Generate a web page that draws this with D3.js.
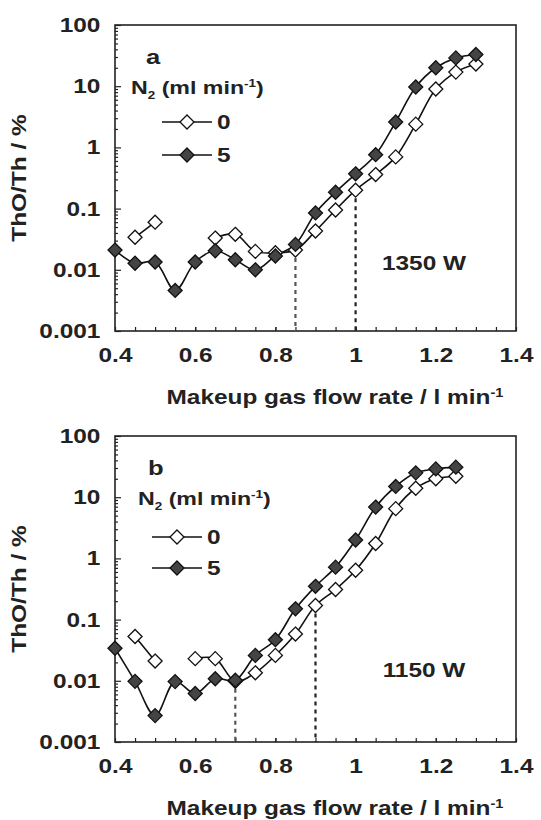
<!DOCTYPE html>
<html>
<head>
<meta charset="utf-8">
<script src="https://cdn.jsdelivr.net/npm/d3@7"></script>
<style>
  body { margin: 0; background: #fff; }
  text { font-family: "Liberation Sans", Arial, sans-serif; font-weight: bold; fill: #222; }
</style>
</head>
<body>
<div id="chart"></div>
<script>
// flow rate (l/min) and ThO/Th (%)
const xA = [0.4, 0.45, 0.5, 0.55, 0.6, 0.65, 0.7, 0.75, 0.8, 0.85, 0.9, 0.95, 1.0, 1.05, 1.1, 1.15, 1.2, 1.25, 1.3];
const openA = [null, 0.034, 0.060, null, null, 0.033, 0.038, 0.020, 0.019, 0.021, 0.043, 0.095, 0.20, 0.36, 0.70, 2.4, 9.0, 17, 23];
const fillA = [0.021, 0.0128, 0.0134, 0.0046, 0.0134, 0.0205, 0.0146, 0.0100, 0.0168, 0.026, 0.085, 0.185, 0.37, 0.76, 2.6, 9.7, 20, 29, 33];

const xB = [0.4, 0.45, 0.5, 0.55, 0.6, 0.65, 0.7, 0.75, 0.8, 0.85, 0.9, 0.95, 1.0, 1.05, 1.1, 1.15, 1.2, 1.25];
const openB = [null, 0.053, 0.021, null, 0.023, 0.023, 0.0098, 0.0135, 0.026, 0.058, 0.17, 0.31, 0.64, 1.75, 6.5, 14, 20, 22];
const fillB = [0.034, 0.0098, 0.0027, 0.0097, 0.0062, 0.0108, 0.0102, 0.026, 0.047, 0.15, 0.35, 0.72, 2.0, 6.9, 15, 25, 29, 31];

// dotted guide lines: [x, value]
const guidesA = [[0.85, 0.021], [1.0, 0.20]];
const guidesB = [[0.7, 0.0100], [0.9, 0.17]];

const xTicks = [0.4, 0.6, 0.8, 1.0, 1.2, 1.4];
const yTicks = [0.001, 0.01, 0.1, 1, 10, 100];
const legendLabels = ["0", "5"];

const W = 541, H = 820;
const SX = 1.22; // the original lettering is a bit wide
const svg = d3.select("#chart").append("svg").attr("width", W).attr("height", H);

const left = 115, right = 516;

// text placed at (x, y) and stretched horizontally
function wideText(g, x, y, size, anchor) {
  return g.append("text")
    .attr("transform", `translate(${x},${y}) scale(${SX},1)`)
    .attr("text-anchor", anchor || "start")
    .style("font-size", size + "px");
}

function drawPanel(p) {
  const { top, bottom, xs, open, filled, guides, letter, power } = p;
  const g = svg.append("g");

  const x = d3.scaleLinear().domain([0.4, 1.4]).range([left, right]);
  const y = d3.scaleLog().domain([0.001, 100]).range([bottom, top]);

  // minor ticks
  const yMinor = [];
  for (let e = -3; e < 2; e++) for (let m = 2; m <= 9; m++) yMinor.push(m * Math.pow(10, e));
  g.append("g")
    .attr("transform", `translate(${left},0)`)
    .call(d3.axisLeft(y).tickValues(yMinor).tickFormat("").tickSize(-3))
    .call(a => a.select(".domain").remove());
  g.append("g")
    .attr("transform", `translate(${left},0)`)
    .call(d3.axisLeft(y).tickValues(yTicks).tickSize(-6).tickPadding(12)
      .tickFormat(d => d >= 1 ? d3.format("d")(d) : String(+d.toPrecision(1))))
    .call(a => a.select(".domain").remove())
    .call(a => a.selectAll("text").style("font-size", "20px").attr("transform", `scale(${SX},1)`));

  const xMinor = d3.range(0.45, 1.4, 0.05).map(v => +v.toFixed(2));
  g.append("g")
    .attr("transform", `translate(0,${bottom})`)
    .call(d3.axisBottom(x).tickValues(xMinor).tickFormat("").tickSize(-4))
    .call(a => a.select(".domain").remove());
  g.append("g")
    .attr("transform", `translate(0,${bottom})`)
    .call(d3.axisBottom(x).tickValues(xTicks).tickSize(-4).tickPadding(17).tickFormat(d3.format("")))
    .call(a => a.select(".domain").remove())
    .call(a => a.selectAll("text").style("font-size", "20px").attr("transform", `scale(${SX},1)`));

  g.selectAll(".tick line").attr("stroke", "#222").attr("stroke-width", 1.2);

  g.append("rect")
    .attr("x", left).attr("y", top)
    .attr("width", right - left).attr("height", bottom - top)
    .attr("fill", "none").attr("stroke", "#222").attr("stroke-width", 1.6);

  // guides
  g.selectAll(".guide").data(guides).enter().append("line")
    .attr("x1", d => x(d[0])).attr("x2", d => x(d[0]))
    .attr("y1", d => y(d[1])).attr("y2", bottom)
    .attr("stroke", (d, i) => i === 0 ? "#555" : "#222")
    .attr("stroke-width", 2.2)
    .attr("stroke-dasharray", "4,4");

  const line = d3.line()
    .defined(d => d[1] != null)
    .x(d => x(d[0])).y(d => y(d[1]))
    .curve(d3.curveCatmullRom.alpha(0.5));

  const series = [
    { vals: open, fill: "#fff" },
    { vals: filled, fill: "#444" }
  ];
  const diamond = d3.symbol().type(d3.symbolDiamond2).size(125);

  series.forEach(s => {
    const pts = xs.map((v, i) => [v, s.vals[i]]);
    g.append("path").datum(pts)
      .attr("d", line)
      .attr("fill", "none").attr("stroke", "#111").attr("stroke-width", 1.6);
  });
  series.forEach(s => {
    const pts = xs.map((v, i) => [v, s.vals[i]]).filter(d => d[1] != null);
    g.selectAll(null).data(pts).enter().append("path")
      .attr("d", diamond)
      .attr("transform", d => `translate(${x(d[0])},${y(d[1])})`)
      .attr("fill", s.fill).attr("stroke", "#111").attr("stroke-width", 1.3);
  });

  // panel letter and legend
  wideText(g, p.letterX, top + 39, 21).text(letter);
  const n2 = wideText(g, p.legX, top + 69, 19);
  n2.append("tspan").text("N");
  n2.append("tspan").attr("dy", 5).style("font-size", "11px").text("2");
  n2.append("tspan").attr("dy", -5).text(" (ml min");
  n2.append("tspan").attr("dy", -7).style("font-size", "11px").text("-1");
  n2.append("tspan").attr("dy", 7).text(")");

  legendLabels.forEach((lab, i) => {
    const ly = top + p.legY0 + i * p.legDy;
    g.append("line").attr("x1", p.lineX).attr("x2", p.lineX + 50)
      .attr("y1", ly).attr("y2", ly).attr("stroke", "#111").attr("stroke-width", 1.6);
    g.append("path").attr("d", diamond)
      .attr("transform", `translate(${p.lineX + 25},${ly})`)
      .attr("fill", series[i].fill).attr("stroke", "#111").attr("stroke-width", 1.3);
    wideText(g, p.lineX + 55, ly + 7, 20).text(lab);
  });

  wideText(g, 424, p.powerY, 20, "middle").text(power);

  // axis titles
  g.append("text")
    .attr("transform", `translate(26,${(top + bottom) / 2}) rotate(-90) scale(${SX},1)`)
    .attr("text-anchor", "middle").style("font-size", "20px").text("ThO/Th / %");
  const xt = wideText(g, 335, bottom + 73, 20, "middle");
  xt.append("tspan").text("Makeup gas flow rate / l min");
  xt.append("tspan").attr("dy", -7).style("font-size", "12px").text("-1");
}

drawPanel({ top: 25, bottom: 331, xs: xA, open: openA, filled: fillA, guides: guidesA,
  letter: "a", power: "1350 W", letterX: 146, legX: 131, lineX: 162, legY0: 97, legDy: 33, powerY: 270 });
drawPanel({ top: 436, bottom: 742, xs: xB, open: openB, filled: fillB, guides: guidesB,
  letter: "b", power: "1150 W", letterX: 148, legX: 138, lineX: 152, legY0: 101, legDy: 31, powerY: 677 });
</script>
</body>
</html>
